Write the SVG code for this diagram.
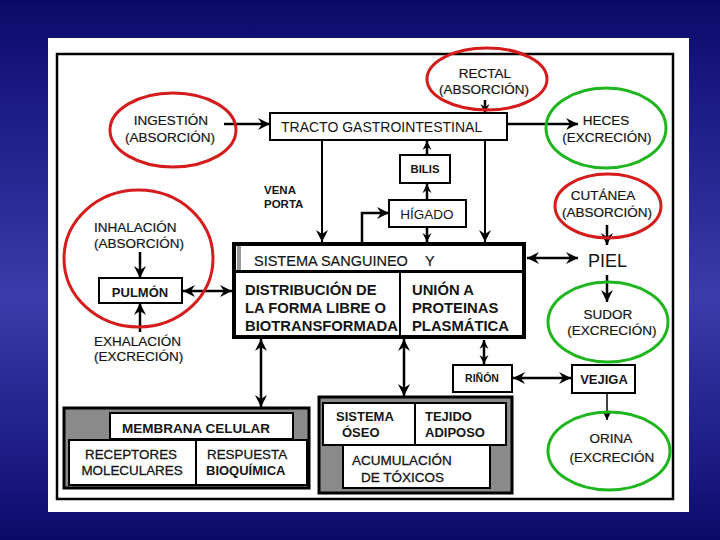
<svg xmlns="http://www.w3.org/2000/svg" width="720" height="540" viewBox="0 0 720 540">
<defs>
<linearGradient id="bg" x1="0" y1="0" x2="0" y2="1">
<stop offset="0" stop-color="#0a0a66"/>
<stop offset="0.12" stop-color="#15157c"/>
<stop offset="0.55" stop-color="#3b3bab"/>
<stop offset="0.9" stop-color="#16167c"/>
<stop offset="1" stop-color="#0a0a66"/>
</linearGradient>
<marker id="ah" markerUnits="userSpaceOnUse" markerWidth="13" markerHeight="13" refX="12" refY="6.5" orient="auto-start-reverse" viewBox="0 0 13 13">
<path d="M0,0.5 L12,6.5 L0,12.5 L4,6.5 z" fill="#000"/>
</marker>
<marker id="ahs" markerUnits="userSpaceOnUse" markerWidth="10" markerHeight="10" refX="9" refY="5" orient="auto-start-reverse" viewBox="0 0 10 10">
<path d="M0,0.5 L9,5 L0,9.5 L3,5 z" fill="#000"/>
</marker>
<style>
.t{font-family:"Liberation Sans",Arial,Helvetica,sans-serif;fill:#151515}
.e{font-size:13.5px;text-anchor:middle;stroke:#151515;stroke-width:0.2}
.m{text-anchor:middle}
.b{font-weight:bold}
.box{fill:#fff;stroke:#000;stroke-width:2}
.red{fill:none;stroke:#d41c1c;stroke-width:3}
.grn{fill:none;stroke:#1fb51f;stroke-width:3}
.c{fill:none;stroke:#000;stroke-width:2.5}
.ct{fill:none;stroke:#000;stroke-width:2}
.gray{fill:#8a8a8a;stroke:#000;stroke-width:3}
</style>
</defs>
<rect x="0" y="0" width="720" height="540" fill="url(#bg)"/>
<rect x="48" y="38" width="641" height="474" fill="#fff"/>
<rect x="57" y="54" width="616" height="445" fill="none" stroke="#000" stroke-width="2.5"/>

<g id="connectors">
<line class="c" x1="224" y1="124" x2="270" y2="124" marker-end="url(#ah)"/>
<line class="c" x1="485" y1="100" x2="485" y2="113" marker-end="url(#ahs)"/>
<line class="c" x1="507" y1="124" x2="578" y2="124" marker-end="url(#ah)"/>
<line class="ct" x1="322" y1="140" x2="322" y2="242" marker-end="url(#ah)"/>
<line class="ct" x1="485" y1="140" x2="485" y2="242" marker-end="url(#ah)"/>
<line class="c" x1="427" y1="155" x2="427" y2="141" marker-end="url(#ahs)"/>
<line class="c" x1="427" y1="200" x2="427" y2="184" marker-end="url(#ahs)"/>
<line class="c" x1="427" y1="227" x2="427" y2="242" marker-end="url(#ahs)"/>
<polyline class="c" points="362,242 362,213 389,213" marker-end="url(#ah)"/>
<line class="c" x1="607" y1="225" x2="607" y2="245" marker-end="url(#ah)"/>
<line class="c" x1="527" y1="258" x2="578" y2="258" marker-start="url(#ah)" marker-end="url(#ah)"/>
<line class="c" x1="607" y1="275" x2="607" y2="302" marker-end="url(#ah)"/>
<line class="c" x1="140" y1="252" x2="140" y2="278" marker-end="url(#ah)"/>
<line class="c" x1="140" y1="332" x2="140" y2="303" marker-end="url(#ah)"/>
<line class="c" x1="183" y1="291" x2="232" y2="291" marker-start="url(#ah)" marker-end="url(#ah)"/>
<line class="c" x1="261" y1="339" x2="261" y2="407" marker-start="url(#ah)" marker-end="url(#ah)"/>
<line class="c" x1="404" y1="339" x2="404" y2="396" marker-start="url(#ah)" marker-end="url(#ah)"/>
<line class="c" x1="484" y1="340" x2="484" y2="364" marker-start="url(#ahs)" marker-end="url(#ahs)"/>
<line class="c" x1="513" y1="378" x2="571" y2="378" marker-start="url(#ah)" marker-end="url(#ah)"/>
<line x1="607" y1="393" x2="607" y2="420" stroke="#000" stroke-width="1.5" marker-end="url(#ahs)"/>
</g>

<g id="rectal">
<ellipse class="red" cx="487" cy="79" rx="60" ry="31"/>
<text class="t e" x="485" y="78">RECTAL</text>
<text class="t e" x="484" y="94">(ABSORCIÓN)</text>
</g>
<g id="ingestion">
<ellipse class="red" cx="173" cy="130" rx="63" ry="37"/>
<text class="t e" x="171" y="125">INGESTIÓN</text>
<text class="t e" x="170" y="142">(ABSORCIÓN)</text>
</g>
<g id="tracto">
<rect class="box" x="270" y="113" width="237" height="27"/>
<text class="t" x="281" y="132" font-size="14">TRACTO GASTROINTESTINAL</text>
</g>
<g id="heces">
<ellipse class="grn" cx="606" cy="128" rx="60" ry="40"/>
<text class="t e" x="606" y="125">HECES</text>
<text class="t e" x="607" y="142">(EXCRECIÓN)</text>
</g>
<g id="bilis">
<rect class="box" x="400" y="155" width="50" height="28"/>
<text class="t b m" x="425" y="173" font-size="11.3">BILIS</text>
</g>
<g id="vena-porta">
<text class="t b" x="264" y="194" font-size="11.5">VENA</text>
<text class="t b" x="264" y="208" font-size="11.5">PORTA</text>
</g>
<g id="higado">
<rect class="box" x="389" y="200" width="77" height="27"/>
<text class="t m" x="427" y="219" font-size="13.5">HÍGADO</text>
</g>
<g id="cutanea">
<ellipse class="red" cx="608" cy="206" rx="53" ry="32"/>
<text class="t e" x="603" y="200">CUTÁNEA</text>
<text class="t e" x="607" y="217">(ABSORCIÓN)</text>
</g>
<g id="piel">
<text class="t" x="588" y="267" font-size="18">PIEL</text>
</g>
<g id="sudor">
<ellipse class="grn" cx="608" cy="322" rx="60" ry="40"/>
<text class="t e" x="608" y="319">SUDOR</text>
<text class="t e" x="612" y="335">(EXCRECIÓN)</text>
</g>
<g id="inhalacion">
<ellipse class="red" cx="138.5" cy="258.5" rx="74.5" ry="68.5"/>
<text class="t" x="94" y="232" font-size="13.5" stroke="#151515" stroke-width="0.2">INHALACIÓN</text>
<text class="t" x="94" y="248" font-size="13.5" stroke="#151515" stroke-width="0.2">(ABSORCIÓN)</text>
</g>
<g id="pulmon">
<rect class="box" x="99" y="278" width="83" height="25"/>
<text class="t b m" x="140" y="297" font-size="13">PULMÓN</text>
</g>
<g id="exhalacion">
<text class="t" x="94" y="346" font-size="13.5" stroke="#151515" stroke-width="0.2">EXHALACIÓN</text>
<text class="t" x="94" y="361" font-size="13.5" stroke="#151515" stroke-width="0.2">(EXCRECIÓN)</text>
</g>
<g id="sistema-sanguineo">
<rect x="234" y="244" width="290" height="93" fill="#fff" stroke="#000" stroke-width="4"/>
<rect x="237" y="246" width="4" height="24" fill="#999"/>
<line x1="234" y1="271.5" x2="524" y2="271.5" stroke="#000" stroke-width="3"/>
<line x1="400" y1="272" x2="400" y2="337" stroke="#000" stroke-width="2"/>
<text class="t" x="254" y="266" font-size="14.5" stroke="#151515" stroke-width="0.2">SISTEMA SANGUINEO</text>
<text class="t" x="425" y="266" font-size="14.5" stroke="#151515" stroke-width="0.2">Y</text>
<text class="t b" x="245" y="295" font-size="14.8">DISTRIBUCIÓN DE</text>
<text class="t b" x="245" y="313" font-size="14.8">LA FORMA LIBRE O</text>
<text class="t b" x="245" y="331" font-size="14.8">BIOTRANSFORMADA</text>
<text class="t b" x="412" y="295" font-size="14.8">UNIÓN A</text>
<text class="t b" x="412" y="313" font-size="14.8">PROTEINAS</text>
<text class="t b" x="412" y="331" font-size="14.8">PLASMÁTICA</text>
</g>
<g id="rinon">
<rect class="box" x="453" y="365" width="59" height="27"/>
<text class="t b m" x="482" y="382" font-size="10.5">RIÑÓN</text>
</g>
<g id="vejiga">
<rect class="box" x="572" y="365" width="63" height="28"/>
<text class="t b m" x="604" y="384" font-size="13">VEJIGA</text>
</g>
<g id="orina">
<ellipse class="grn" cx="609" cy="451" rx="61" ry="39"/>
<text class="t e" x="611" y="443">ORINA</text>
<text class="t e" x="612" y="462">(EXCRECIÓN</text>
</g>
<g id="membrana">
<rect class="gray" x="64" y="408" width="245" height="80"/>
<rect class="box" x="110" y="413" width="183" height="26"/>
<rect class="box" x="69" y="440" width="238" height="45"/>
<line x1="196" y1="440" x2="196" y2="485" stroke="#000" stroke-width="2"/>
<text class="t b" x="122" y="433" font-size="13.5">MEMBRANA CELULAR</text>
<text class="t m" x="131" y="459" font-size="13.4" stroke="#151515" stroke-width="0.3">RECEPTORES</text>
<text class="t m" x="132" y="475" font-size="13.4" stroke="#151515" stroke-width="0.3">MOLECULARES</text>
<text class="t" x="207" y="459" font-size="13.4" stroke="#151515" stroke-width="0.3">RESPUESTA</text>
<text class="t b" x="206" y="475" font-size="13">BIOQUÍMICA</text>
</g>
<g id="sistema-oseo">
<rect class="gray" x="319" y="397" width="193" height="96"/>
<rect class="box" x="323" y="403" width="183" height="42"/>
<line x1="415" y1="403" x2="415" y2="445" stroke="#000" stroke-width="2"/>
<rect class="box" x="343" y="445" width="147" height="43"/>
<text class="t b" x="336" y="421" font-size="13">SISTEMA</text>
<text class="t b" x="342" y="437" font-size="13">ÓSEO</text>
<text class="t b" x="425" y="421" font-size="13">TEJIDO</text>
<text class="t b" x="425" y="437" font-size="13">ADIPOSO</text>
<text class="t" x="352" y="465" font-size="13.5" stroke="#151515" stroke-width="0.3">ACUMULACIÓN</text>
<text class="t" x="361" y="482" font-size="13.5" stroke="#151515" stroke-width="0.3">DE TÓXICOS</text>
</g>
</svg>
